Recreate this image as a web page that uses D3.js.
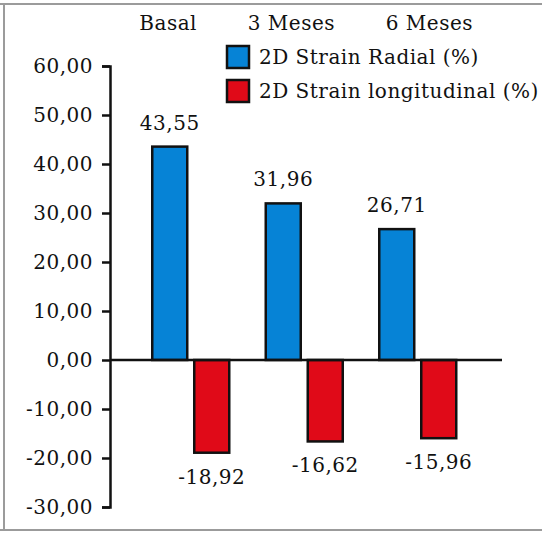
<!DOCTYPE html>
<html>
<head>
<meta charset="utf-8">
<script src="https://cdn.jsdelivr.net/npm/d3@7"></script>
<style>
  html, body { margin: 0; padding: 0; background: #fff; }
  svg { display: block; }
  text { font-family: "DejaVu Serif", serif; fill: #111; letter-spacing: 0.5px; }
</style>
</head>
<body>
<svg id="chart" width="542" height="533"></svg>
<script>
// Strain values per visit
const categories = ["Basal", "3 Meses", "6 Meses"];
const seriesNames = ["2D Strain Radial (%)", "2D Strain longitudinal (%)"];
const radial = [43.55, 31.96, 26.71];
const longitudinal = [-18.92, -16.62, -15.96];
const yTicks = [-30, -20, -10, 0, 10, 20, 30, 40, 50, 60];
const colors = ["#0683d6", "#e00a18"];

const locale = d3.formatLocale({ decimal: ",", thousands: ".", grouping: [3], currency: ["", ""], minus: "-" });
const fmt = locale.format(".2f");
const fontSize = 20;

const svg = d3.select("#chart");
const W = 542;

// outer frame (top, left, bottom edges)
const frame = svg.append("g").attr("stroke", "#9b9b9b").attr("stroke-width", 2).attr("fill", "none");
frame.append("line").attr("x1", 0).attr("x2", W).attr("y1", 4).attr("y2", 4);
frame.append("line").attr("x1", 4).attr("x2", 4).attr("y1", 4).attr("y2", 530);
frame.append("line").attr("x1", 0).attr("x2", W).attr("y1", 530).attr("y2", 530);

const axisX = 110;
const y = d3.scaleLinear().domain([-30, 60]).range([507, 66]);
const x0 = d3.scaleBand().domain(categories).range([134, 474.5]).padding(0);
const x1 = d3.scaleBand().domain(seriesNames).range([18.25, 95.25]).paddingInner(1 / 6).paddingOuter(0);

const rows = categories.map((c, i) => ({ cat: c, values: [radial[i], longitudinal[i]] }));

// bars
const groups = svg.append("g").selectAll("g").data(rows).join("g")
  .attr("transform", d => `translate(${x0(d.cat)},0)`);

groups.selectAll("rect").data(d => d.values.map((v, j) => ({ v, s: seriesNames[j], j })))
  .join("rect")
  .attr("x", d => x1(d.s))
  .attr("width", x1.bandwidth())
  .attr("y", d => y(Math.max(0, d.v)))
  .attr("height", d => Math.abs(y(d.v) - y(0)))
  .attr("fill", d => colors[d.j])
  .attr("stroke", "#111")
  .attr("stroke-width", 2.5);

// value labels
groups.selectAll("text.val").data(d => d.values.map((v, j) => ({ v, s: seriesNames[j], j })))
  .join("text")
  .attr("class", "val")
  .attr("x", d => x1(d.s) + x1.bandwidth() / 2)
  .attr("y", d => d.v >= 0 ? y(d.v) - 17 : y(d.v) + 31)
  .attr("text-anchor", "middle")
  .attr("font-size", fontSize)
  .text(d => fmt(d.v));

// zero line
svg.append("line")
  .attr("x1", axisX).attr("x2", 502)
  .attr("y1", y(0)).attr("y2", y(0))
  .attr("stroke", "#111").attr("stroke-width", 2.5);

// y axis
const yAxis = svg.append("g")
  .attr("transform", `translate(${axisX},0)`)
  .call(d3.axisLeft(y).tickValues(yTicks).tickSize(8).tickSizeOuter(8).tickPadding(9).tickFormat(fmt));
yAxis.select(".domain").attr("stroke", "#111").attr("stroke-width", 2.5);
yAxis.selectAll(".tick line").attr("stroke", "#111").attr("stroke-width", 2.5);
yAxis.selectAll(".tick text")
  .attr("font-family", "DejaVu Serif, serif")
  .attr("font-size", fontSize)
  .attr("fill", "#111");

// category headers
const xHead = d3.scalePoint().domain(categories).range([197, 473]);
svg.append("g").selectAll("text").data(categories).join("text")
  .attr("x", d => xHead(d))
  .attr("y", 30)
  .attr("text-anchor", "end")
  .attr("font-size", fontSize)
  .text(d => d);

// legend
const legend = svg.append("g").attr("transform", "translate(227,46)");
const li = legend.selectAll("g").data(seriesNames).join("g")
  .attr("transform", (d, i) => `translate(0,${i * 34})`);
li.append("rect")
  .attr("width", 22).attr("height", 22)
  .attr("fill", (d, i) => colors[i])
  .attr("stroke", "#111").attr("stroke-width", 2.5);
li.append("text")
  .attr("x", 32).attr("y", 18)
  .attr("font-size", fontSize)
  .text(d => d);
</script>
</body>
</html>
